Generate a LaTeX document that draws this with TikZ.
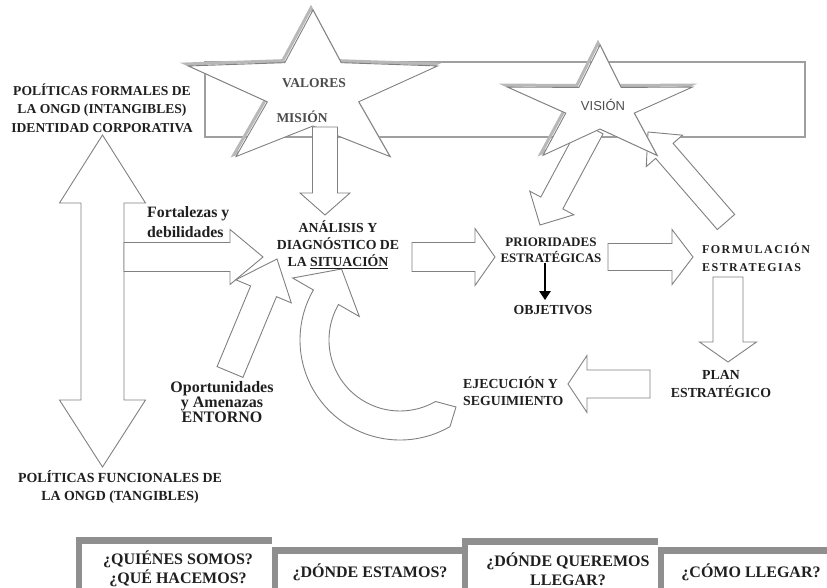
\documentclass[tikz,border=0pt]{standalone}
\usepackage{fontspec}
\setmainfont{Liberation Serif}
\newfontfamily\visionfont{Liberation Sans}
\usetikzlibrary{positioning,calc,arrows.meta}
\definecolor{graydarker}{gray}{0.12}
\definecolor{grayline}{gray}{0.5}
\definecolor{grayshade}{gray}{0.72}
\definecolor{graytab}{gray}{0.56}
\colorlet{rvtext}{graydarker}

\tikzset{
  barrow/.style={draw=grayline, fill=white, line width=0.9pt, line join=miter},
  starbox/.style={draw=grayline, fill=white, line width=0.9pt, line join=miter},
  starshade/.style={draw=grayshade, line width=3pt, line join=miter},
  lbl/.style={text=rvtext, font=\bfseries\fontsize{13.8}{17}\selectfont, align=center, inner sep=0pt},
  startext/.style={text=gray!60!black, font=\bfseries\fontsize{13.5}{16}\selectfont, inner sep=0pt},
  tabtxt/.style={lbl, font=\bfseries\fontsize{16}{19}\selectfont},
  tabbar/.style={fill=graytab},
}

% block arrow: tail, tip, shaft half width, head half width, head length
\newcommand{\blockarrow}[5]{%
  \coordinate (hb) at ($(#2)!#5!(#1)$);
  \draw[barrow] ($(#1)!#3!90:(#2)$) -- ($(hb)!#3!90:(#2)$) -- ($(hb)!#4!90:(#2)$) -- (#2)
    -- ($(hb)!#4!-90:(#2)$) -- ($(hb)!#3!-90:(#2)$) -- ($(#1)!#3!-90:(#2)$) -- cycle;}

% five point star: style, centre, outer x/y radius, inner x/y radius
\newcommand{\ongdstar}[6]{%
  \draw[#1] ($(#2)+(-90:#3 and #4)$) \foreach \k in {0,...,4}
    { -- ($(#2)+(-54+72*\k:#5 and #6)$) -- ($(#2)+(-18+72*\k:#3 and #4)$) } -- cycle;}

\begin{document}
\begin{tikzpicture}[x=1pt, y=-1pt]
\useasboundingbox (0,0) rectangle (827,588);

\draw[draw=grayline!75, line width=1.8pt] (205,62) rectangle (805,137); % banner behind the stars

\coordinate (valStar) at (313,91);
\coordinate (valShade) at (311,89);
\coordinate (visStar) at (600,106);
\coordinate (visShade) at (598,104);

% arrow ends
\coordinate (misOut) at (325,127);   \coordinate (anaIn) at (325,215);
\coordinate (fortOut) at (124,257);  \coordinate (fortIn) at (263,257);
\coordinate (oporOut) at (230,372);  \coordinate (oporIn) at (277,259);
\coordinate (anaOut) at (412,257);   \coordinate (prioIn) at (495,257);
\coordinate (prioOut) at (608,257);  \coordinate (formIn) at (693,257);
\coordinate (formOut) at (728,277);  \coordinate (planIn) at (728,362);
\coordinate (planOut) at (650,384);  \coordinate (ejecIn) at (568,384);
\coordinate (visOut) at (592,128);   \coordinate (prioTop) at (540,225);
\coordinate (formUp) at (726,222);   \coordinate (visIn) at (648,132);
\coordinate (polTop) at (102.5,135); \coordinate (polBot) at (102.5,467);
\coordinate (loopC) at (400,340);

% arrows under VISIÓN
\blockarrow{visOut}{prioTop}{12.5pt}{25pt}{25pt}
\blockarrow{formUp}{visIn}{11.5pt}{24pt}{25pt}

% stars
\ongdstar{starshade}{valShade}{131}{81}{48}{35}
\ongdstar{starbox}{valStar}{131}{81}{48}{35}
\ongdstar{starshade}{visShade}{97}{61}{36}{23}
\ongdstar{starbox}{visStar}{97}{61}{36}{23}

% formal / functional policies
\draw[barrow] (polTop) -- ($(polTop)+(43,68)$) -- ($(polTop)+(21.5,68)$) -- ($(polBot)+(21.5,-67)$)
  -- ($(polBot)+(43,-67)$) -- (polBot) -- ($(polBot)+(-43,-67)$) -- ($(polBot)+(-21.5,-67)$)
  -- ($(polTop)+(-21.5,68)$) -- ($(polTop)+(-43,68)$) -- cycle;

\blockarrow{misOut}{anaIn}{12.5pt}{25pt}{22pt}
\blockarrow{fortOut}{fortIn}{14.5pt}{27.5pt}{33pt}
\blockarrow{oporOut}{oporIn}{14pt}{30pt}{35pt}
\blockarrow{anaOut}{prioIn}{14.5pt}{28.5pt}{20pt}
\blockarrow{prioOut}{formIn}{13.5pt}{27.5pt}{21pt}
\blockarrow{formOut}{planIn}{15pt}{28.5pt}{20pt}
\blockarrow{planOut}{ejecIn}{14pt}{28.5pt}{19pt}

% loop back from execution to analysis
\draw[barrow] ($(loopC)+(60:100)$) arc[start angle=60, end angle=210, radius=100]
  -- ($(loopC)+(210:124)$) -- ($(loopC)+(210:86)+(16,-28)$) -- ($(loopC)+(210:47)$)
  -- ($(loopC)+(210:71)$) arc[start angle=210, end angle=60, radius=71]
  -- ($(loopC)+(60:86)+(13,-7.5)$) -- cycle;

% labels
\node[startext] (valores) at (314,83) {VALORES};
\node[startext] (mision) at (302,117) {MISIÓN};
\node[startext, font=\visionfont\fontsize{13}{15}\selectfont] (vision) at (603,105) {VISIÓN};

\node[lbl, font=\bfseries\fontsize{13.6}{18.5}\selectfont] (formales) at (102,108) {POLÍTICAS FORMALES DE\\LA ONGD (INTANGIBLES)\\IDENTIDAD CORPORATIVA};
\node[lbl, font=\bfseries\fontsize{15.8}{20}\selectfont, align=left, anchor=west] (fortalezas) at (147,222) {Fortalezas y\\debilidades};
\node[lbl, font=\bfseries\fontsize{16}{15}\selectfont] (oportunidades) at (222,402) {Oportunidades\\y Amenazas\\ENTORNO};
\node[lbl] (analisis) at (338,245) {ANÁLISIS Y\\DIAGNÓSTICO DE\\LA \underline{SITUACIÓN}};
\node[lbl, font=\bfseries\fontsize{13}{16}\selectfont] (prioridades) at (551,250) {PRIORIDADES\\ESTRATÉGICAS};
\node[lbl] (objetivos) at (553,310) {OBJETIVOS};
\node[lbl, font=\bfseries\fontsize{12}{18}\selectfont\addfontfeature{LetterSpace=12}, align=left, anchor=west] (formulacion) at (702,257) {FORMULACIÓN\\ESTRATEGIAS};
\node[lbl, font=\bfseries\fontsize{13.8}{18}\selectfont] (plan) at (721,384) {PLAN\\ESTRATÉGICO};
\node[lbl, align=left, anchor=west] (ejecucion) at (463,391) {EJECUCIÓN Y\\SEGUIMIENTO};
\node[lbl, font=\bfseries\fontsize{13.9}{18}\selectfont] (funcionales) at (120,487) {POLÍTICAS FUNCIONALES DE\\LA ONGD (TANGIBLES)};

\draw[-{Triangle[length=9pt,width=11pt]}, line width=2.6pt, shorten >=5pt] ([xshift=-6pt]prioridades.south) -- ([xshift=-8pt]objetivos.north);

% question tabs
\foreach \x/\xx/\y in {76/272/537, 272/462/547, 462/658/538, 658/827/547} {
  \fill[tabbar] (\x,\y) rectangle (\xx,\y+7);
  \fill[tabbar] (\x,\y) rectangle (\x+6,588);
}
\node[tabtxt] (quienes) at (178,569) {¿QUIÉNES SOMOS?\\¿QUÉ HACEMOS?};
\node[tabtxt] (estamos) at (370,572) {¿DÓNDE ESTAMOS?};
\node[tabtxt] (queremos) at (568,569) {¿DÓNDE QUEREMOS\\LLEGAR?};
\node[tabtxt] (llegar) at (751,572) {¿CÓMO LLEGAR?};
\end{tikzpicture}
\end{document}
